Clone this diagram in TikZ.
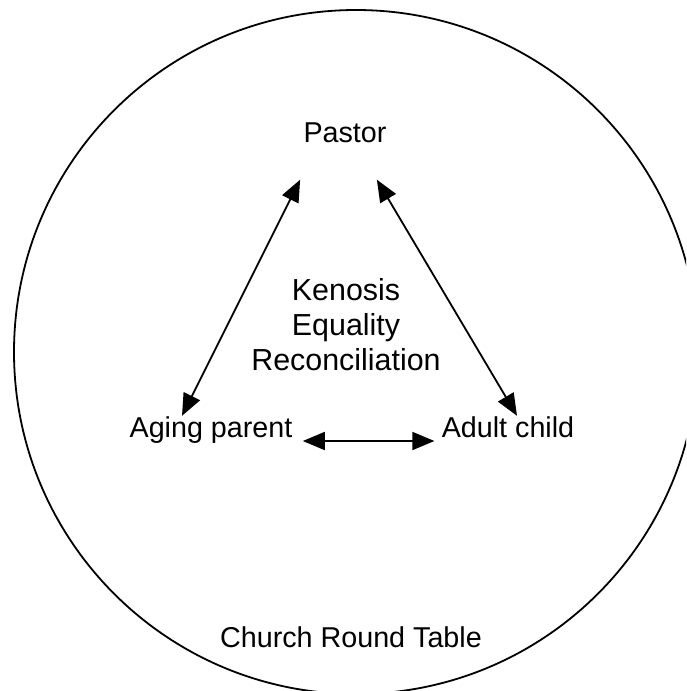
\documentclass[tikz,border=0pt]{standalone}
\usepackage{fontspec}
\setmainfont{Liberation Sans}
\usetikzlibrary{arrows.meta}
\tikzset{
  label/.style={inner sep=0pt,anchor=base},
  link/.style={{Triangle[length=11pt,width=9pt]}-{Triangle[length=11pt,width=9pt]},line width=.9pt}
}
\begin{document}
\begin{tikzpicture}[x=.5pt,y=-.5pt,line join=round,font=\fontsize{14.35}{17.5}\selectfont]
\useasboundingbox (0,0) rectangle (686,691);
\clip (0,0) rectangle (686,691);
	\draw[line width=.9pt] (356,352) circle[radius=342];
	\node[label] (pastor) at (345,142) {Pastor};
	\node[label] (aging) at (211,437) {Aging parent};
	\node[label] (adult) at (508,437) {Adult child};
	\node[inner sep=0pt,align=center,font=\fontsize{15.2}{17.5}\selectfont] (values) at (346,325) {Kenosis\\Equality\\Reconciliation};
	\node[label] (table) at (351,647) {Church Round Table};
	\draw[link] ([shift={(-29,0)}]aging.north) -- ([shift={(-3,37)}]pastor.south west);
	\draw[link] ([shift={(9,0)}]adult.north) -- ([shift={(-10,37)}]pastor.south east);
	\draw[link] ([shift={(10,4)}]aging.base east) -- ([shift={(-7,4)}]adult.base west);
\end{tikzpicture}
\end{document}
